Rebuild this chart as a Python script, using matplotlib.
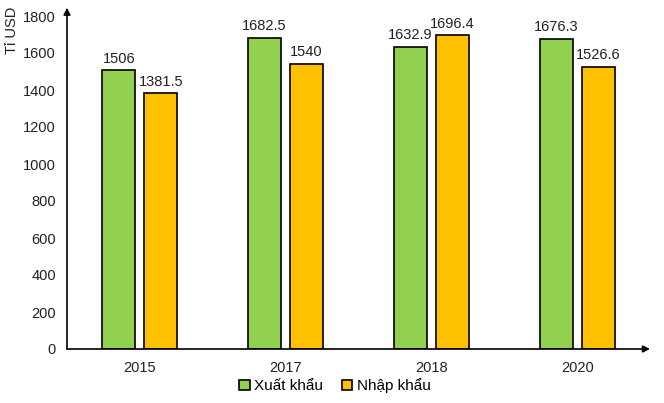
import matplotlib
matplotlib.use("Agg")
import matplotlib.pyplot as plt
import numpy as np
from matplotlib.patches import Patch

years = ["2015", "2017", "2018", "2020"]
export_vals = [1506, 1682.5, 1632.9, 1676.3]
import_vals = [1381.5, 1540, 1696.4, 1526.6]
export_labels = ["1506", "1682.5", "1632.9", "1676.3"]
import_labels = ["1381.5", "1540", "1696.4", "1526.6"]
yticks = [0, 200, 400, 600, 800, 1000, 1200, 1400, 1600, 1800]

plt.rcParams['font.family'] = ['Liberation Sans', 'DejaVu Sans']

fig = plt.figure(figsize=(6.64, 4.03), dpi=100)
ax = fig.add_axes([67/664, 1-349/403, (650-67)/664, (349-16)/403])

x = np.arange(len(years))
w = 0.226
off = 0.144
green = "#92D050"
orange = "#FFC000"
b1 = ax.bar(x - off, export_vals, w, color=green, edgecolor="black", linewidth=1.2, zorder=3)
b2 = ax.bar(x + off, import_vals, w, color=orange, edgecolor="black", linewidth=1.2, zorder=3)

for xi, v, s in zip(x - off, export_vals, export_labels):
    ax.text(xi, v + 25, s, ha="center", va="bottom", fontsize=10.5, color="#222222")
for xi, v, s in zip(x + off, import_vals, import_labels):
    ax.text(xi, v + 25, s, ha="center", va="bottom", fontsize=10.5, color="#222222")

ax.set_xlim(-0.5, 3.5)
ax.set_ylim(0, 1800)
ax.set_yticks(yticks)
ax.set_yticklabels([str(t) for t in yticks], fontsize=10.5, color="#222222")
ax.set_xticks(x)
ax.set_xticklabels(years, fontsize=10.5, color="#222222")
ax.tick_params(length=0, pad=8)
ax.tick_params(axis='x', pad=9)

for s in ["top", "right", "left", "bottom"]:
    ax.spines[s].set_visible(False)

# axes with arrows
ax.annotate("", xy=(0, 1.025), xytext=(0, 0), xycoords="axes fraction",
            arrowprops=dict(arrowstyle="-|>", color="black", lw=1.2, mutation_scale=10,
                            shrinkA=0, shrinkB=0), annotation_clip=False)
ax.annotate("", xy=(1.0, 0), xytext=(0, 0), xycoords="axes fraction",
            arrowprops=dict(arrowstyle="-|>", color="black", lw=1.2, mutation_scale=10,
                            shrinkA=0, shrinkB=0), annotation_clip=False)

fig.text(12/664, 1-30/403, "Tỉ USD", rotation=90, ha="center", va="center",
         fontsize=10.5, color="#222222")

handles = [Patch(facecolor=green, edgecolor="black", linewidth=1.2, label="Xuất khẩu"),
           Patch(facecolor=orange, edgecolor="black", linewidth=1.2, label="Nhập khẩu")]
fig.legend(handles=handles, loc="center", bbox_to_anchor=(335/664, 1-386/403), ncol=2,
           frameon=False, fontsize=11, handlelength=0.7, handleheight=0.7,
           handletextpad=0.3, columnspacing=1.2)

fig.savefig("out.png", dpi=100)
